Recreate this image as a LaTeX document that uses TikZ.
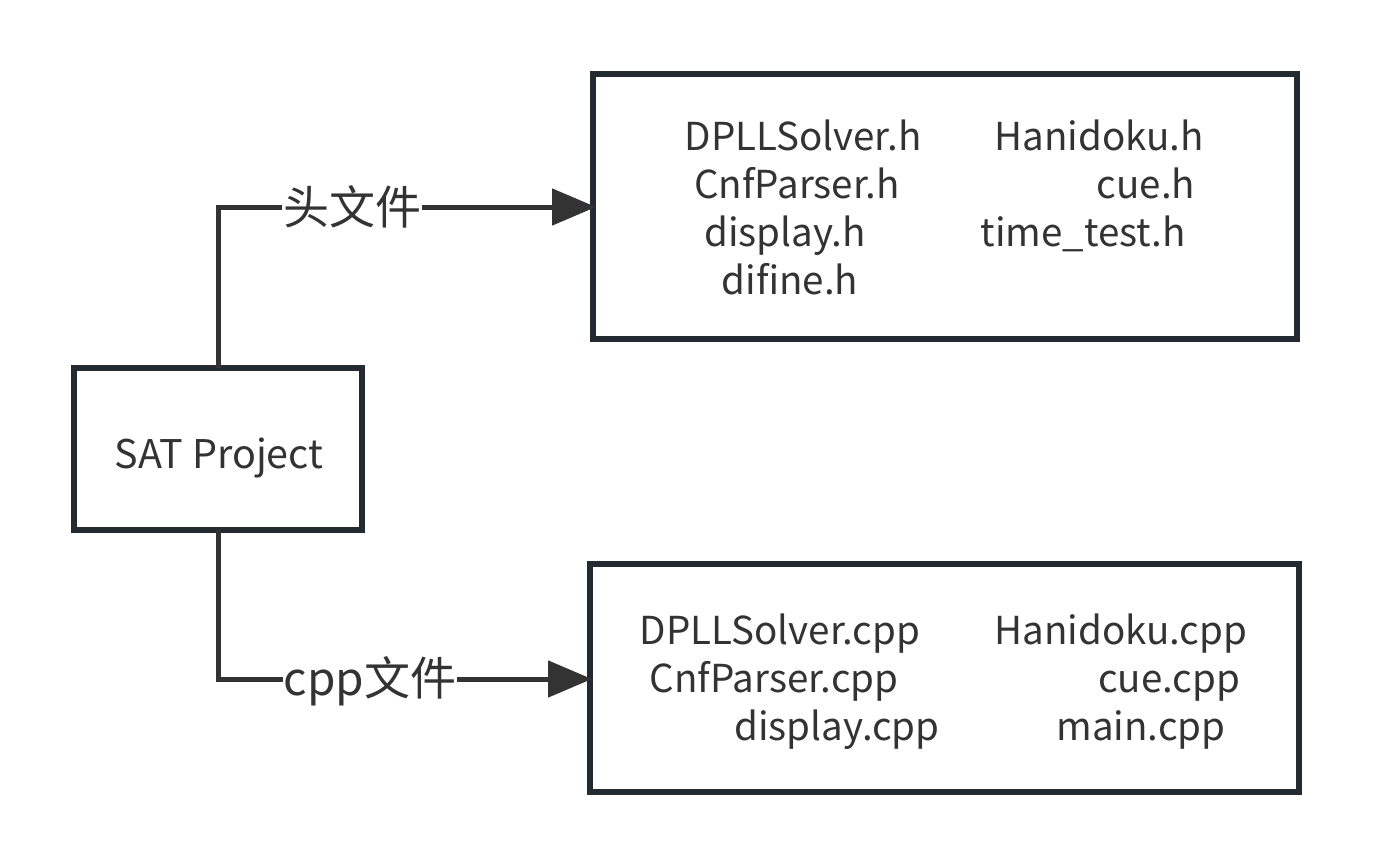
\documentclass[tikz,border=0pt]{standalone}
\usepackage{fontspec}
\setmainfont{Noto Sans CJK SC}
\usetikzlibrary{arrows.meta}
\definecolor{boxline}{HTML}{232A31}
\definecolor{conn}{HTML}{333333}
\definecolor{txt}{HTML}{333333}
\begin{document}
\begin{tikzpicture}[x=1pt,y=-1pt,
  box/.style={draw=boxline,line width=5.5pt,fill=white},
  conline/.style={draw=conn,line width=5pt,-{Triangle[length=44pt,width=36pt]}},
  lbl/.style={fill=white,inner sep=1pt,text=txt,font=\fontsize{46}{50}\selectfont},
  fname/.style={anchor=base,text=txt,inner sep=0pt,font=\fontsize{38.5}{42}\selectfont}]
\useasboundingbox (0,0) rectangle (1374,867);
% boxes
\draw[box] (74,368) rectangle (362,530);
\node[anchor=base,text=txt,font=\fontsize{39.5}{42}\selectfont] (sat) at (219,468) {SAT Project};
\coordinate (satN) at (218,368);
\coordinate (satS) at (218,530);
\draw[box] (593,74) rectangle (1297,339);
\coordinate (hdrW) at (596,207);
\draw[box] (590,564) rectangle (1299,792);
\coordinate (cppW) at (592,679);
% connectors
\coordinate (k1) at (218,207);
\coordinate (k2) at (218,679);
\draw[conline] (satN) -- (k1) -- (hdrW);
\draw[conline] (satS) -- (k2) -- (cppW);
\node[lbl] (l1) at (352,207) {头文件};
\node[lbl] (l2) at (370,681) {cpp文件};
% header files
\node[fname] (a1) at (803,150) {DPLLSolver.h};
\node[fname] (a2) at (797,198) {CnfParser.h};
\node[fname] (a3) at (785,246) {display.h};
\node[fname] (a4) at (790,294) {difine.h};
\node[fname] (b1) at (1099,150) {Hanidoku.h};
\node[fname] (b2) at (1146,198) {cue.h};
\node[fname] (b3) at (1083,246) {time\_test.h};
% cpp files
\node[fname] (c1) at (780,644) {DPLLSolver.cpp};
\node[fname] (c2) at (774,692) {CnfParser.cpp};
\node[fname] (c3) at (837,740) {display.cpp};
\node[fname] (d1) at (1121,644) {Hanidoku.cpp};
\node[fname] (d2) at (1169,692) {cue.cpp};
\node[fname] (d3) at (1141,740) {main.cpp};
\end{tikzpicture}
\end{document}
